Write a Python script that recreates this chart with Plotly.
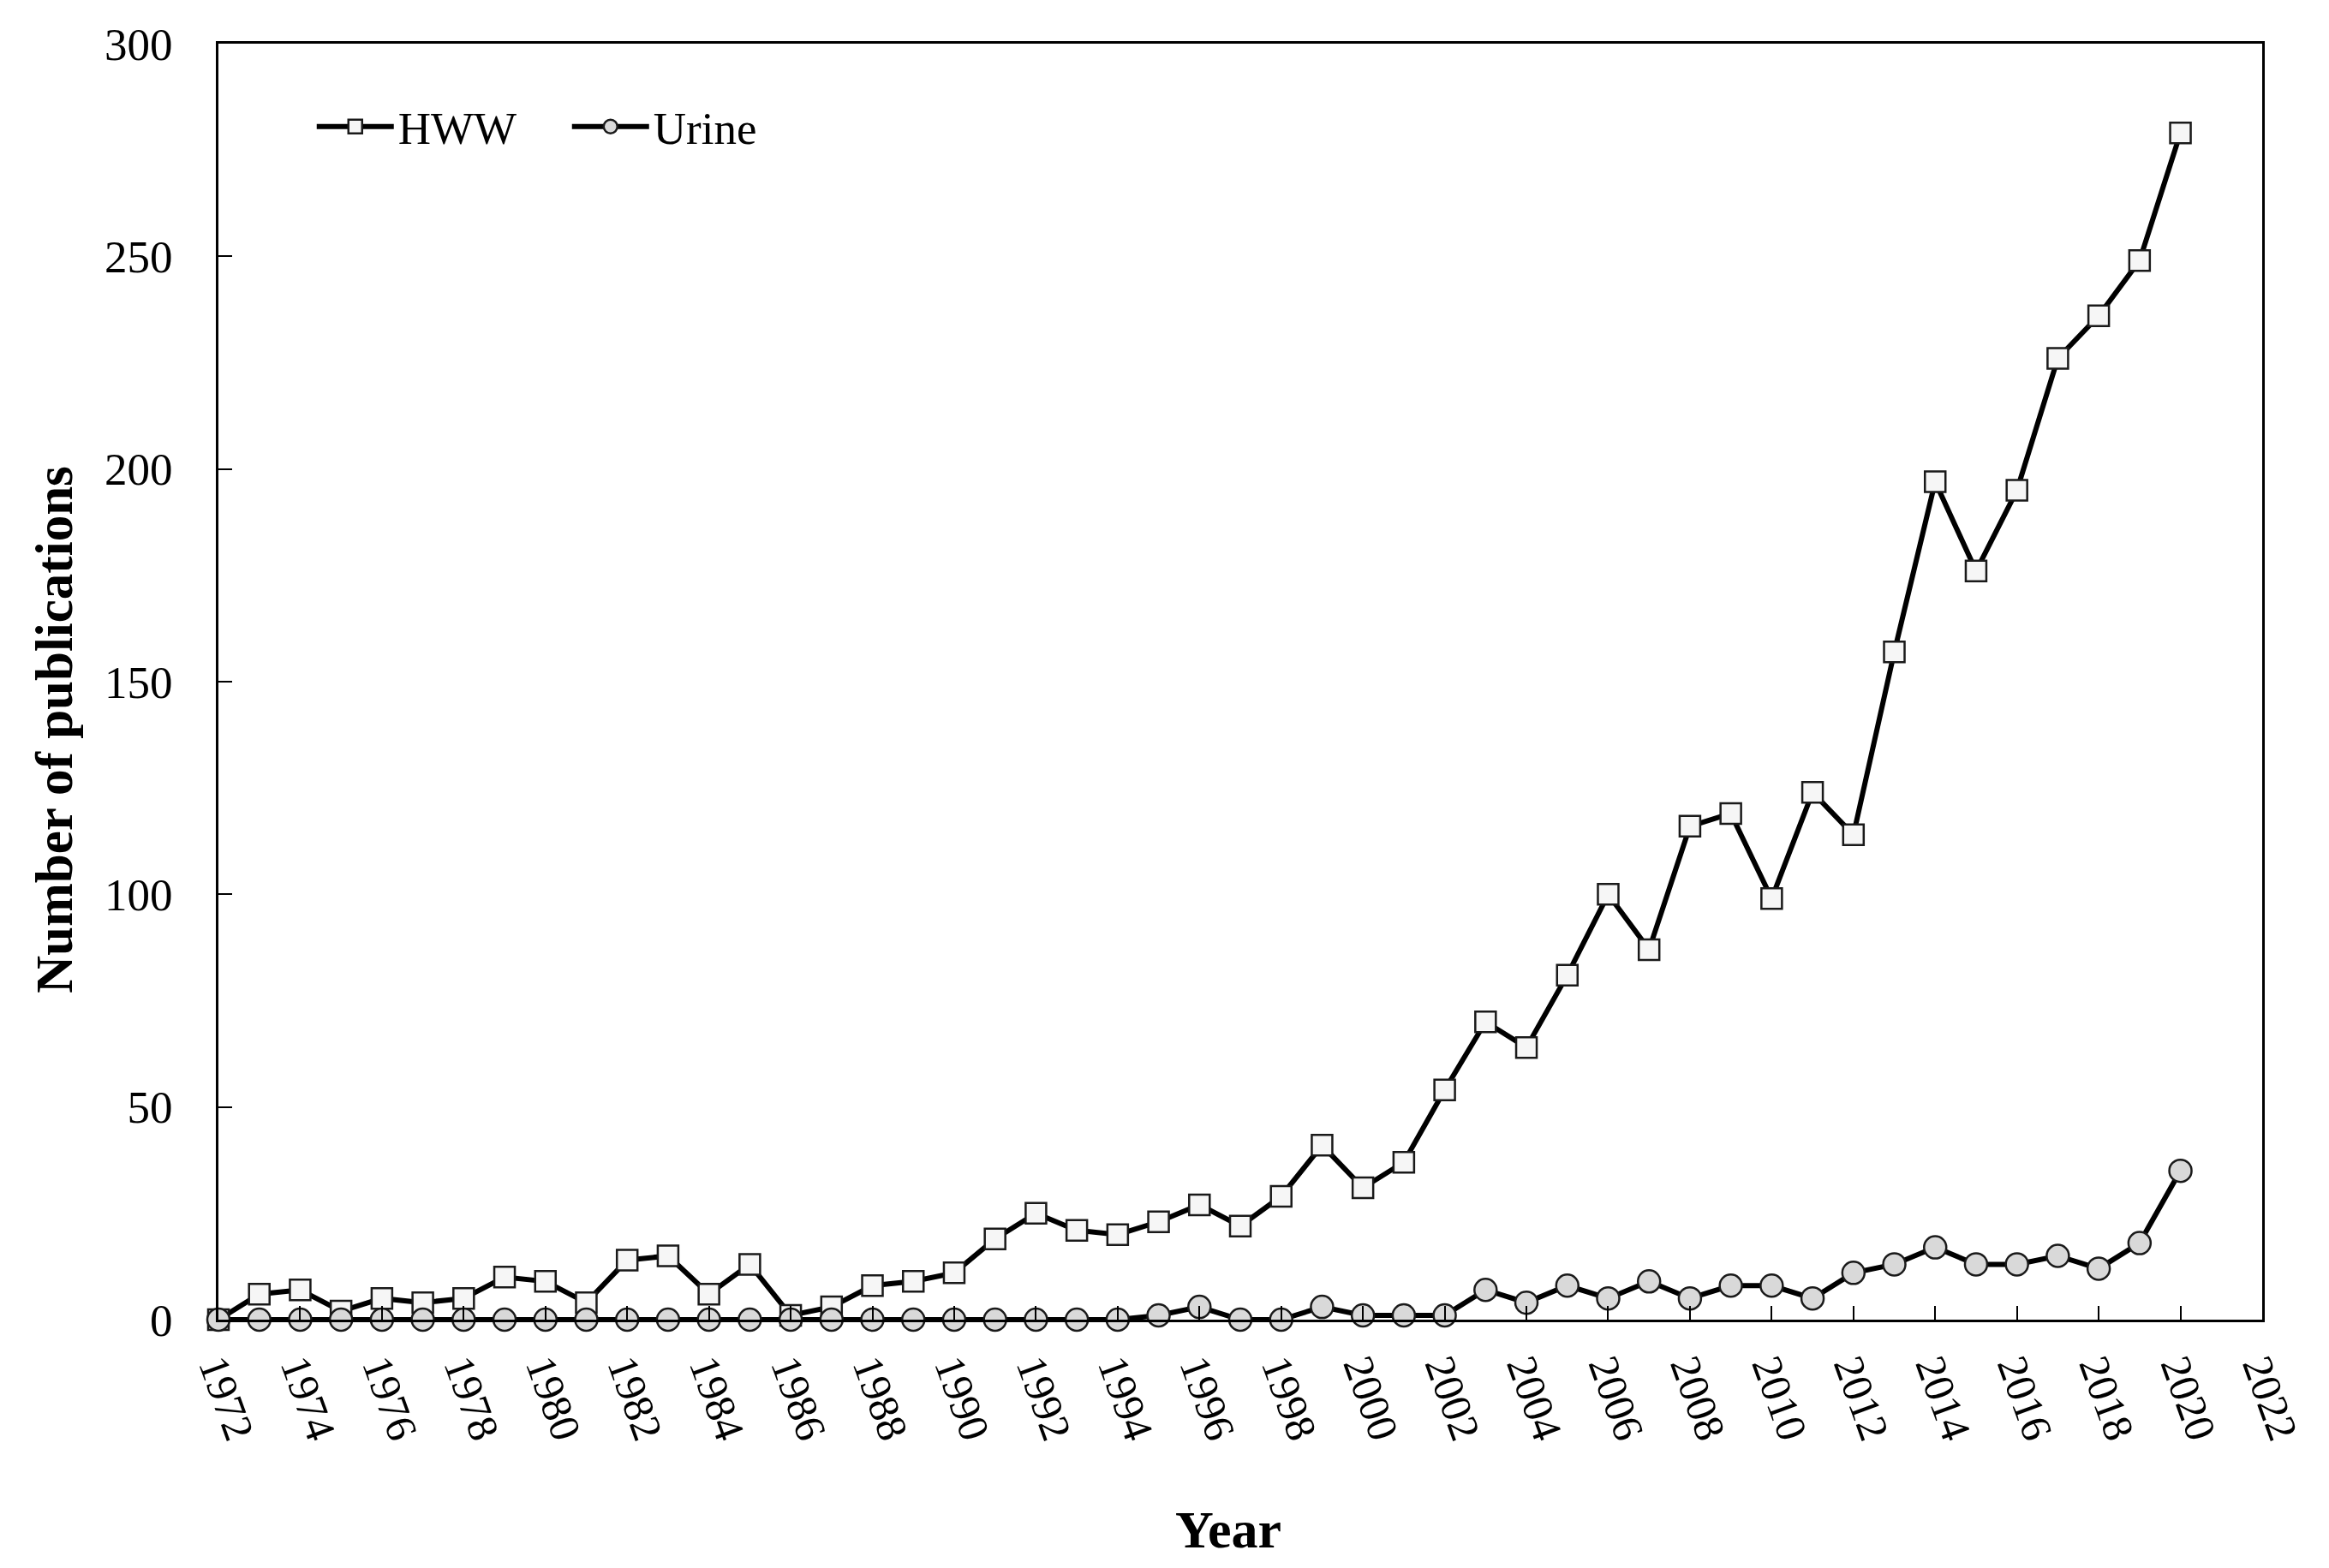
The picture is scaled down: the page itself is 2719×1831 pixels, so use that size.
import plotly.graph_objects as go

years = list(range(1972, 2021))
hww = [0, 6, 7, 2, 5, 4, 5, 10, 9, 4,
       14, 15, 6, 13, 1, 3, 8, 9, 11, 19,
       25, 21, 20, 23, 27, 22, 29, 41, 31, 37,
       54, 70, 64, 81, 100, 87, 116, 119, 99, 124,
       114, 157, 197, 176, 195, 226, 236, 249, 279]
urine = [0, 0, 0, 0, 0, 0, 0, 0, 0, 0,
         0, 0, 0, 0, 0, 0, 0, 0, 0, 0,
         0, 0, 0, 1, 3, 0, 0, 3, 1, 1,
         1, 7, 4, 8, 5, 9, 5, 8, 8, 5,
         11, 13, 17, 13, 13, 15, 12, 18, 35]
x_ticks = list(range(1972, 2023, 2))
y_ticks = [0, 50, 100, 150, 200, 250, 300]

FONT = "Liberation Serif"

fig = go.Figure()
fig.add_trace(go.Scatter(
    x=years, y=hww, name="HWW", mode="lines+markers",
    line=dict(color="black", width=6),
    marker=dict(symbol="square", size=24, color="#f6f6f6",
                line=dict(color="#1a1a1a", width=2.5)),
    cliponaxis=False,
))
fig.add_trace(go.Scatter(
    x=years, y=urine, name="Urine", mode="lines+markers",
    line=dict(color="black", width=6),
    marker=dict(symbol="circle", size=26, color="#d9d9d9",
                line=dict(color="#1a1a1a", width=2.5)),
    cliponaxis=False,
))

# The page body adds an 8px offset; margins compensate so the plot area
# lands at x 255..2641, y 51..1541 of the screenshot.
fig.update_layout(
    width=2711, height=1823,
    margin=dict(l=247, r=78, t=43, b=290, autoexpand=False),
    paper_bgcolor="white", plot_bgcolor="white",
    font=dict(family=FONT, size=52, color="black"),
    showlegend=True,
    legend=dict(orientation="h", x=0.046, y=0.935, xanchor="left", yanchor="middle",
                font=dict(family=FONT, size=53, color="black"),
                bgcolor="rgba(0,0,0,0)", itemwidth=90, entrywidth=193),
    xaxis=dict(
        range=[1972, 2022], tickvals=x_ticks, ticktext=[str(v) for v in x_ticks],
        ticks="inside", ticklen=16, tickwidth=2, tickcolor="black",
        showline=True, linewidth=3, linecolor="black", mirror=True,
        showgrid=False, zeroline=False, tickangle=70, automargin=False,
        tickfont=dict(family=FONT, size=50, color="black"),
        ticklabelstandoff=4,
    ),
    yaxis=dict(
        range=[0, 300], tickvals=y_ticks, automargin=False,
        ticks="inside", ticklen=16, tickwidth=2, tickcolor="black",
        showline=True, linewidth=3, linecolor="black", mirror=True,
        showgrid=False, zeroline=False,
        tickfont=dict(family=FONT, size=53, color="black"),
        ticklabelstandoff=40,
    ),
    annotations=[
        dict(text="Year", xref="paper", yref="paper", x=0.494, y=-0.1644,
             xanchor="center", yanchor="middle", showarrow=False,
             font=dict(family=FONT, size=62, weight="bold", color="black")),
        dict(text="Number of publications", xref="paper", yref="paper",
             x=-0.0805, y=0.4624, textangle=-90,
             xanchor="center", yanchor="middle", showarrow=False,
             font=dict(family=FONT, size=61, weight="bold", color="black")),
    ],
)

fig.write_html("out.html")
